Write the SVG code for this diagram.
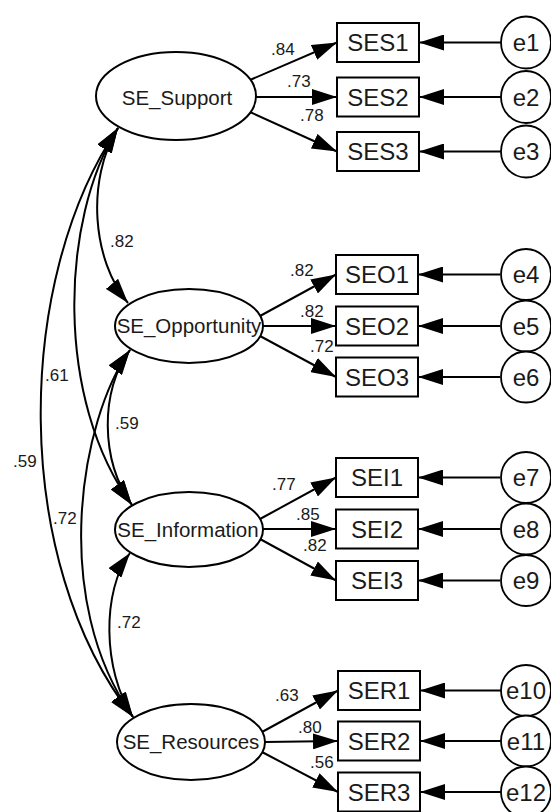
<svg xmlns="http://www.w3.org/2000/svg" width="551" height="812" viewBox="0 0 551 812">
<style>
.lat{fill:#fff;stroke:#000;stroke-width:2}
.obs{fill:#fff;stroke:#000;stroke-width:2}
.err{fill:#fff;stroke:#000;stroke-width:1.8}
.ln{fill:none;stroke:#000;stroke-width:2;marker-end:url(#ah)}
.cov{fill:none;stroke:#000;stroke-width:2;marker-start:url(#ah);marker-end:url(#ah)}
text{font-family:"Liberation Sans",Arial,sans-serif;fill:#1a1a1a}
.t1{font-size:20.5px;text-anchor:middle}
.t2{font-size:24px;text-anchor:middle}
.c{font-size:17px}
</style>
<defs>
<marker id="ah" viewBox="0 0 25 16" refX="25" refY="8" markerWidth="25" markerHeight="16" markerUnits="userSpaceOnUse" orient="auto-start-reverse">
<path d="M0,0 L25,8 L0,16 z" fill="#000"/>
</marker>
</defs>
<rect width="551" height="812" fill="#fff"/>
<g id="connectors">
<path class="cov" d="M118,128 C86,180 92,260 128,303"/>
<path class="cov" d="M118,128 C60,220 55,400 132,505"/>
<path class="cov" d="M118,128 C15,280 10,560 133,717"/>
<path class="cov" d="M130,350 C100,390 100,460 132,505"/>
<path class="cov" d="M130,350 C80,420 50,600 133,717"/>
<path class="cov" d="M130,553 C102,590 102,670 133,717"/>
<path class="ln" d="M250,80 L337,42.5"/>
<path class="ln" d="M256,97 L337,97"/>
<path class="ln" d="M250,112 L337,151.5"/>
<path class="ln" d="M260,316 L336,274.5"/>
<path class="ln" d="M263,326 L336,326"/>
<path class="ln" d="M260,336 L336,377"/>
<path class="ln" d="M260,519 L336,477.5"/>
<path class="ln" d="M263,529 L336,529"/>
<path class="ln" d="M260,539 L336,580.5"/>
<path class="ln" d="M262,732 L338,690.5"/>
<path class="ln" d="M265,742 L338,741"/>
<path class="ln" d="M262,752 L338,792"/>
<path class="ln" d="M501,42.5 L419,42.5"/>
<path class="ln" d="M501,97 L419,97"/>
<path class="ln" d="M501,151.5 L419,151.5"/>
<path class="ln" d="M500,274.5 L418,274.5"/>
<path class="ln" d="M500,326 L418,326"/>
<path class="ln" d="M500,377 L418,377"/>
<path class="ln" d="M500,477.5 L418,477.5"/>
<path class="ln" d="M500,529 L418,529"/>
<path class="ln" d="M500,580.5 L418,580.5"/>
<path class="ln" d="M501,690.5 L420,690.5"/>
<path class="ln" d="M501,741 L420,741"/>
<path class="ln" d="M501,792 L420,792"/>
</g>
<g id="coefficients" class="c">
<text class="c" x="271" y="55">.84</text>
<text class="c" x="287" y="87">.73</text>
<text class="c" x="300" y="121">.78</text>
<text class="c" x="290" y="276">.82</text>
<text class="c" x="300" y="317">.82</text>
<text class="c" x="310" y="352">.72</text>
<text class="c" x="272" y="490">.77</text>
<text class="c" x="296" y="520">.85</text>
<text class="c" x="303" y="551">.82</text>
<text class="c" x="275" y="701">.63</text>
<text class="c" x="298" y="733">.80</text>
<text class="c" x="310" y="768">.56</text>
<text class="c" x="110" y="247">.82</text>
<text class="c" x="45" y="381">.61</text>
<text class="c" x="115" y="429">.59</text>
<text class="c" x="13" y="467">.59</text>
<text class="c" x="53" y="524">.72</text>
<text class="c" x="117" y="628">.72</text>
</g>
<g id="SE_Support"><ellipse class="lat" cx="176" cy="96" rx="80" ry="44"/><text class="t1" x="177" y="105">SE_Support</text></g>
<g id="SE_Opportunity"><ellipse class="lat" cx="189" cy="326" rx="74" ry="37"/><text class="t1" x="189" y="333">SE_Opportunity</text></g>
<g id="SE_Information"><ellipse class="lat" cx="189" cy="529.5" rx="74" ry="37.5"/><text class="t1" x="188" y="537">SE_Information</text></g>
<g id="SE_Resources"><ellipse class="lat" cx="191" cy="742" rx="74" ry="38"/><text class="t1" x="191" y="749">SE_Resources</text></g>
<g id="SES1"><rect class="obs" x="337" y="23" width="82" height="39"/><text class="t2" x="378" y="51">SES1</text></g>
<g id="SES2"><rect class="obs" x="337" y="77.5" width="82" height="39"/><text class="t2" x="378" y="105.5">SES2</text></g>
<g id="SES3"><rect class="obs" x="337" y="132" width="82" height="39"/><text class="t2" x="378" y="160">SES3</text></g>
<g id="SEO1"><rect class="obs" x="336" y="255" width="82" height="39"/><text class="t2" x="377" y="283">SEO1</text></g>
<g id="SEO2"><rect class="obs" x="336" y="306.5" width="82" height="39"/><text class="t2" x="377" y="334.5">SEO2</text></g>
<g id="SEO3"><rect class="obs" x="336" y="357.5" width="82" height="39"/><text class="t2" x="377" y="385.5">SEO3</text></g>
<g id="SEI1"><rect class="obs" x="336" y="458" width="82" height="39"/><text class="t2" x="377" y="486">SEI1</text></g>
<g id="SEI2"><rect class="obs" x="336" y="509.5" width="82" height="39"/><text class="t2" x="377" y="537.5">SEI2</text></g>
<g id="SEI3"><rect class="obs" x="336" y="561" width="82" height="39"/><text class="t2" x="377" y="589">SEI3</text></g>
<g id="SER1"><rect class="obs" x="338" y="671" width="82" height="39"/><text class="t2" x="379" y="699">SER1</text></g>
<g id="SER2"><rect class="obs" x="338" y="721.5" width="82" height="39"/><text class="t2" x="379" y="749.5">SER2</text></g>
<g id="SER3"><rect class="obs" x="338" y="772.5" width="82" height="39"/><text class="t2" x="379" y="800.5">SER3</text></g>
<g id="e1"><ellipse class="err" cx="526" cy="42.5" rx="25" ry="26"/><text class="t2" x="526" y="51">e1</text></g>
<g id="e2"><ellipse class="err" cx="526" cy="97" rx="25" ry="26"/><text class="t2" x="526" y="105.5">e2</text></g>
<g id="e3"><ellipse class="err" cx="526" cy="151.5" rx="25" ry="26"/><text class="t2" x="526" y="160">e3</text></g>
<g id="e4"><ellipse class="err" cx="526" cy="274.5" rx="25" ry="25.5"/><text class="t2" x="526" y="283">e4</text></g>
<g id="e5"><ellipse class="err" cx="526" cy="326" rx="25" ry="25.5"/><text class="t2" x="526" y="334.5">e5</text></g>
<g id="e6"><ellipse class="err" cx="526" cy="377" rx="25" ry="25.5"/><text class="t2" x="526" y="385.5">e6</text></g>
<g id="e7"><ellipse class="err" cx="526" cy="477.5" rx="25" ry="25.5"/><text class="t2" x="526" y="486">e7</text></g>
<g id="e8"><ellipse class="err" cx="526" cy="529" rx="25" ry="25.5"/><text class="t2" x="526" y="537.5">e8</text></g>
<g id="e9"><ellipse class="err" cx="526" cy="580.5" rx="25" ry="25.5"/><text class="t2" x="526" y="589">e9</text></g>
<g id="e10"><ellipse class="err" cx="526" cy="690.5" rx="25" ry="25.5"/><text class="t2" x="526" y="699">e10</text></g>
<g id="e11"><ellipse class="err" cx="526" cy="741" rx="25" ry="25.5"/><text class="t2" x="526" y="749.5">e11</text></g>
<g id="e12"><ellipse class="err" cx="526" cy="792" rx="25" ry="25.5"/><text class="t2" x="526" y="800.5">e12</text></g>
</svg>
